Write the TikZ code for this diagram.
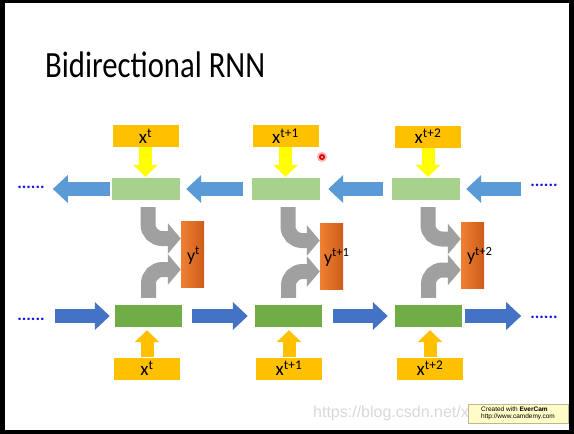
\documentclass[tikz,border=0pt]{standalone}
\usepackage{fontspec}
\setmainfont{Carlito}
\newfontfamily\wmfont{Liberation Sans}
\usetikzlibrary{arrows.meta,positioning,calc}
\definecolor{goldcolor}{RGB}{255,192,0}
\definecolor{yelcolor}{RGB}{255,255,0}
\definecolor{bkcolor}{RGB}{169,209,142}
\definecolor{fwcolor}{RGB}{112,173,71}
\definecolor{bkblue}{RGB}{91,155,213}
\definecolor{fwblue}{RGB}{68,114,196}
\definecolor{mergecolor}{RGB}{160,160,160}
\definecolor{outleft}{RGB}{240,128,50}
\definecolor{outright}{RGB}{205,92,25}
\definecolor{dotcolor}{RGB}{20,20,230}
\tikzset{
  inbox/.style={fill=goldcolor, minimum width=66pt, minimum height=22pt, inner sep=0pt, font=\fontsize{19}{20}\selectfont},
  cellbk/.style={fill=bkcolor, minimum width=68pt, minimum height=22pt, inner sep=0pt},
  cellfw/.style={fill=fwcolor, minimum width=67pt, minimum height=22pt, inner sep=0pt},
  outbox/.style={left color=outleft, right color=outright, minimum width=23pt, minimum height=66pt, inner sep=0pt},
  outlbl/.style={anchor=west, inner sep=0pt, font=\fontsize{18}{20}\selectfont},
  dotsln/.style={text=dotcolor, inner sep=0pt, font=\fontsize{17}{18}\selectfont\bfseries},
  feedln/.style={-{Triangle[length=12pt,width=24pt]}, line width=13pt},
  flowln/.style={-{Triangle[length=15pt,width=27pt]}, line width=14pt},
  mergeln/.style={-{Triangle[length=13pt,width=30pt]}, line width=15pt, mergecolor, rounded corners=14pt},
  evbox/.style={fill=yellow!22, draw=olive!40!gray!60, minimum width=100pt, minimum height=19pt, inner sep=1pt, align=left, font=\wmfont\fontsize{6.5}{7}\selectfont},
}

\begin{document}
\begin{tikzpicture}[x=1pt,y=-1pt]
    \fill[black] (0,0) rectangle (574,434);
    \useasboundingbox (0,0) rectangle (574,434);
    \fill[white] (5,3) rectangle (569,430);
    \node[anchor=base west, inner sep=0pt] (title) at (45,77)
      {\scalebox{0.83}[1]{\fontsize{37}{40}\selectfont Bidirectional RNN}};
    % backward row
    \node[inbox] (xt1) at (145.5,136) {x\textsuperscript{t}};
    \node[inbox] (xt2) at (285.5,136) {x\textsuperscript{t+1}};
    \node[inbox] (xt3) at (428,136.5) {x\textsuperscript{t+2}};
    \node[cellbk] (hb1) at (146,189) {};
    \node[cellbk] (hb2) at (286,189) {};
    \node[cellbk] (hb3) at (426,189) {};
    \node[dotsln] (dotsTL) at (31,187) {......};
    \node[dotsln] (dotsTR) at (544,185) {......};
    % outputs
    \node[outbox] (y1) at (192.5,254.5) {};
    \node[outbox] (y2) at (331.5,256.5) {};
    \node[outbox] (y3) at (472.5,255) {};
    \node[outlbl] (ylbl1) at ([xshift=6pt,yshift=-1pt]y1.west) {y\textsuperscript{t}};
    \node[outlbl] (ylbl2) at ([xshift=4pt,yshift=-1pt]y2.west) {y\textsuperscript{t+1}};
    \node[outlbl] (ylbl3) at ([xshift=6pt,yshift=-1pt]y3.west) {y\textsuperscript{t+2}};
    % forward row
    \node[cellfw] (hf1) at (148.5,316) {};
    \node[cellfw] (hf2) at (288.5,316) {};
    \node[cellfw] (hf3) at (428.5,316) {};
    \node[inbox] (xb1) at (147,368.5) {x\textsuperscript{t}};
    \node[inbox] (xb2) at (289,368.5) {x\textsuperscript{t+1}};
    \node[inbox] (xb3) at (430,368.5) {x\textsuperscript{t+2}};
    \node[dotsln] (dotsBL) at (31,319) {......};
    \node[dotsln] (dotsBR) at (544,317) {......};
    % inputs
    \draw[feedln, yelcolor, shorten >=1pt] (xt1.south) -- (xt1.south |- hb1.north);
    \draw[feedln, yelcolor, shorten >=1pt] (xt2.south) -- (xt2.south |- hb2.north);
    \draw[feedln, yelcolor, shorten >=1pt] (xt3.south) -- (xt3.south |- hb3.north);
    \draw[feedln, goldcolor, shorten >=3pt] (xb1.north) -- (xb1.north |- hf1.south);
    \draw[feedln, goldcolor, shorten >=3pt] (xb2.north) -- (xb2.north |- hf2.south);
    \draw[feedln, goldcolor, shorten >=3pt] (xb3.north) -- (xb3.north |- hf3.south);
    % recurrences
    \draw[flowln, bkblue, shorten <=2pt, shorten >=8pt] (hb1.west) -- (hb1.west -| dotsTL.east);
    \draw[flowln, bkblue, shorten <=9pt, shorten >=6pt] (hb2.west) -- (hb1.east);
    \draw[flowln, bkblue, shorten <=9pt, shorten >=8pt] (hb3.west) -- (hb2.east);
    \draw[flowln, bkblue, shorten <=9pt, shorten >=6pt] (hb3.east -| dotsTR.west) -- (hb3.east);
    \draw[flowln, fwblue, shorten <=10pt, shorten >=5pt] (hf1.west -| dotsBL.east) -- (hf1.west);
    \draw[flowln, fwblue, shorten <=10pt, shorten >=7pt] (hf1.east) -- (hf2.west);
    \draw[flowln, fwblue, shorten <=11pt, shorten >=7pt] (hf2.east) -- (hf3.west);
    \draw[flowln, fwblue, shorten <=3pt, shorten >=9pt] (hf3.east) -- (hf3.east -| dotsBR.west);
    % merge into outputs
    \draw[mergeln] ([xshift=2pt,yshift=-7pt]hb1.south) |- ([yshift=16pt]y1.west);
    \draw[mergeln] ([xshift=2pt,yshift=-7pt]hb2.south) |- ([yshift=16pt]y2.west);
    \draw[mergeln] ([xshift=2pt,yshift=-7pt]hb3.south) |- ([yshift=16pt]y3.west);
    \draw[mergeln] ([yshift=7pt]hf1.north) |- ([yshift=-15pt]y1.west);
    \draw[mergeln] ([yshift=7pt]hf2.north) |- ([yshift=-15pt]y2.west);
    \draw[mergeln] ([yshift=7pt]hf3.north) |- ([yshift=-15pt]y3.west);
    % pointer and stamp
    \fill[red!30] (322,157) circle (5);
    \fill[red!90!black] (322,157) circle (3);
    \fill[white] (322,157) circle (1);
    \node[anchor=west, inner sep=0pt, text=gray!30, font=\wmfont\fontsize{16}{18}\selectfont] (wmark) at (313,413) {https://blog.csdn.net/x};
    \node[evbox] (ever) at (518,413.5) {Created with \textbf{EverCam}\\http://www.camdemy.com};
\end{tikzpicture}
\end{document}
